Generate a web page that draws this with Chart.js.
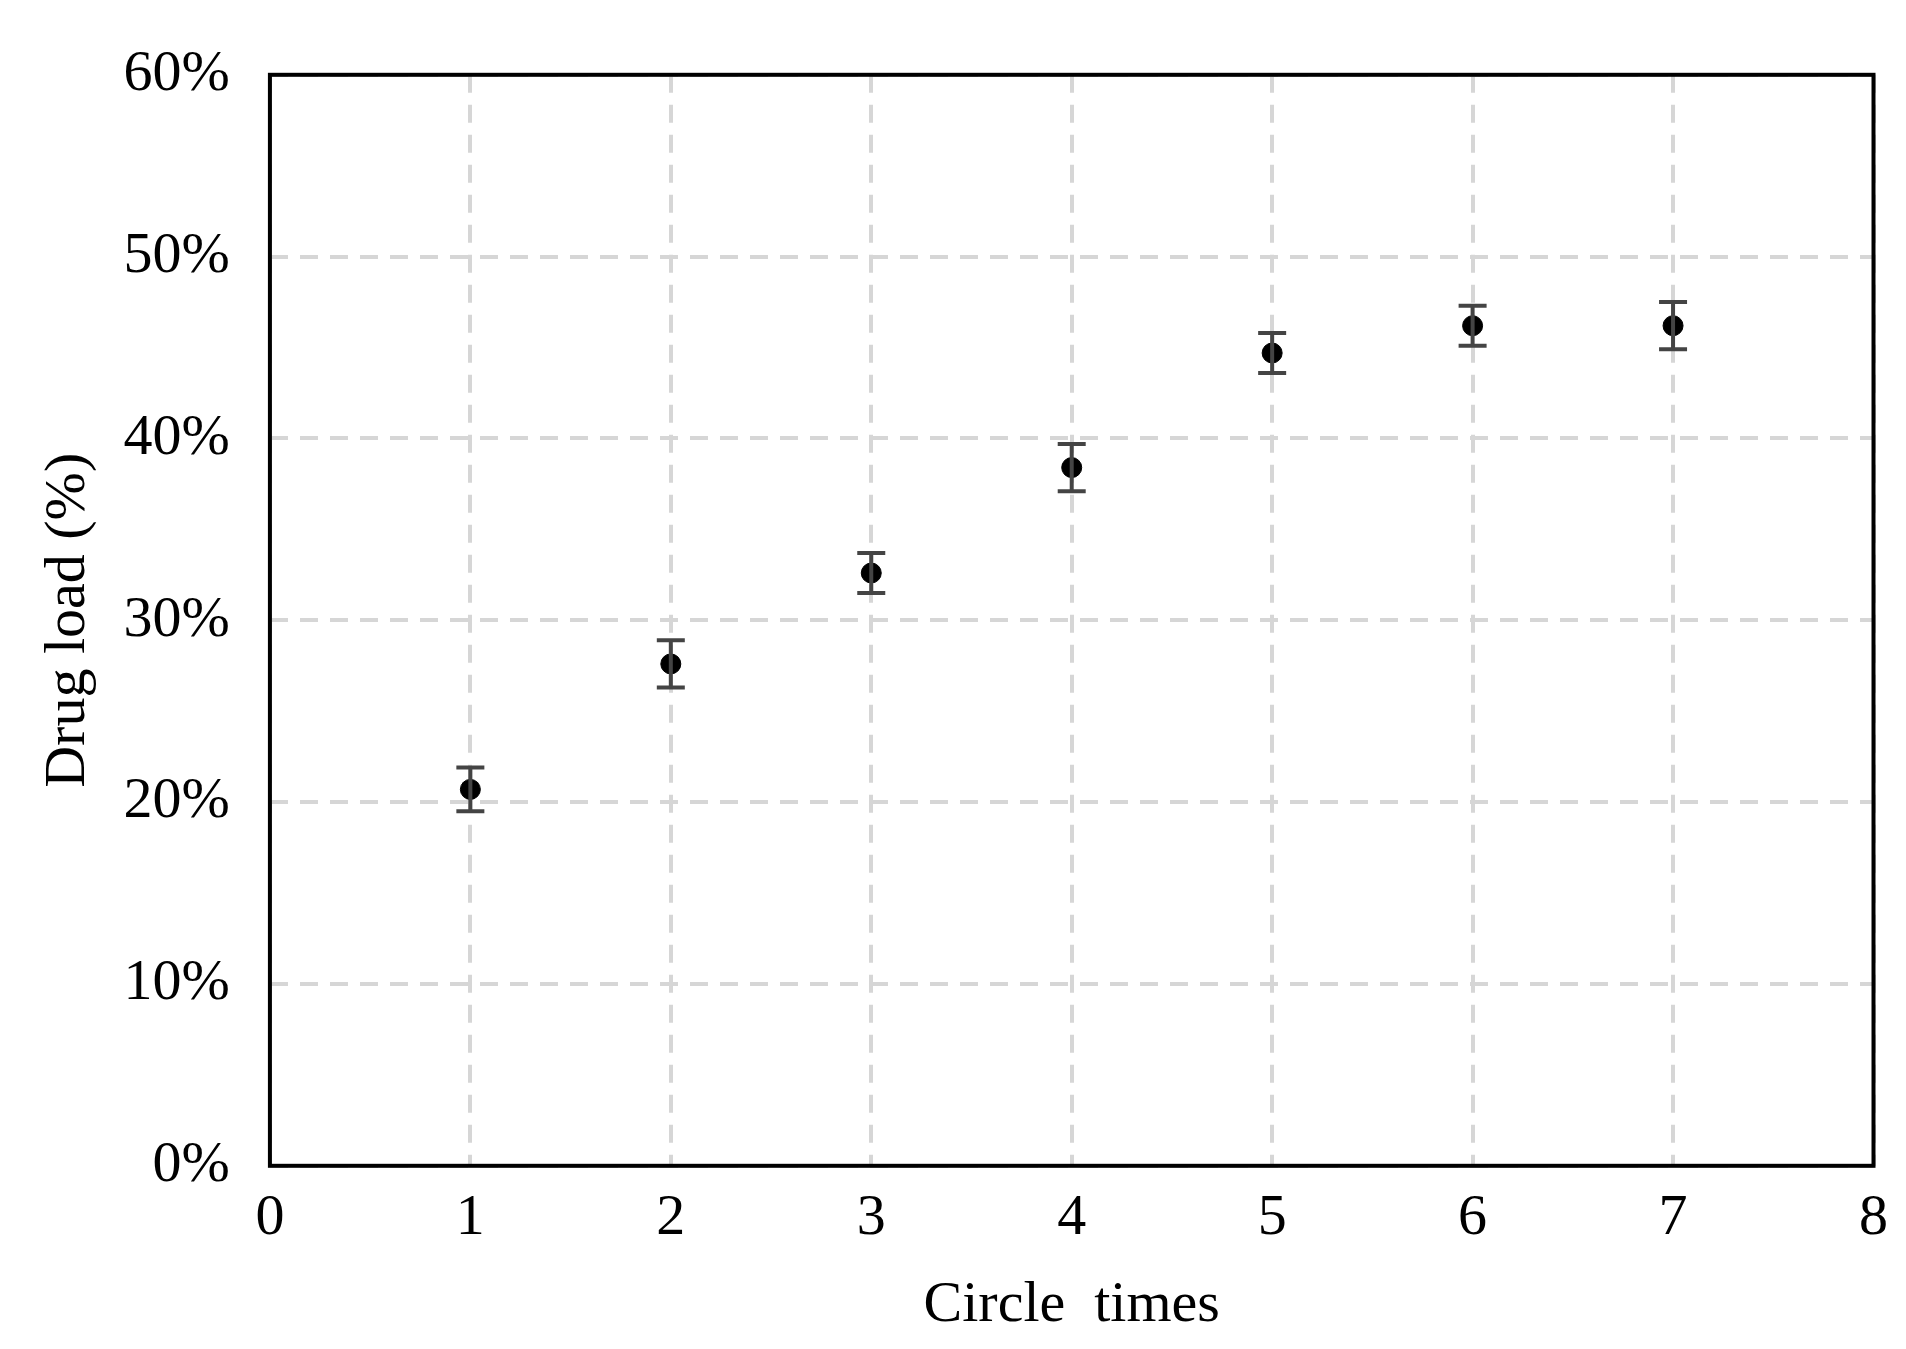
<!DOCTYPE html>
<html><head><meta charset="utf-8">
<script src="https://cdn.jsdelivr.net/npm/chart.js@4/dist/chart.umd.min.js"></script>
<style>html,body{margin:0;padding:0;background:#fff}#w{width:1906px;height:1349px}</style>
</head><body><div id="w"><canvas id="c"></canvas></div>
<script>
const cycles = [1,2,3,4,5,6,7];
const drugLoad = [20.7,27.6,32.6,38.4,44.7,46.2,46.2];
const errors = [1.2,1.3,1.1,1.3,1.1,1.1,1.3];
const errPlugin = {id:'err', afterDatasetsDraw(ch){
  const ctx=ch.ctx, xs=ch.scales.x, ys=ch.scales.y;
  ctx.save(); ctx.strokeStyle='#444'; ctx.lineWidth=4;
  cycles.forEach((c,i)=>{
    const x=xs.getPixelForValue(c), t=ys.getPixelForValue(drugLoad[i]+errors[i]), b=ys.getPixelForValue(drugLoad[i]-errors[i]);
    ctx.beginPath(); ctx.moveTo(x,t); ctx.lineTo(x,b);
    ctx.moveTo(x-14,t); ctx.lineTo(x+14,t); ctx.moveTo(x-14,b); ctx.lineTo(x+14,b); ctx.stroke();
  });
  ctx.restore();
}};
const frame = {id:'frame', afterDraw(ch){const a=ch.chartArea,ctx=ch.ctx;ctx.save();ctx.strokeStyle='#000';ctx.lineWidth=4;ctx.strokeRect(a.left,a.top,a.right-a.left,a.bottom-a.top);ctx.restore();}};
const font={family:'"Liberation Serif", serif', size:58};
new Chart(document.getElementById('c'),{
  type:'scatter',
  data:{datasets:[{data:cycles.map((c,i)=>({x:c,y:drugLoad[i]})),backgroundColor:'#000',borderColor:'#000',pointRadius:10}]},
  options:{responsive:true,maintainAspectRatio:false,animation:false,
    layout:{padding:{top:10,right:32,left:30,bottom:4}},
    plugins:{legend:{display:false},tooltip:{enabled:false}},
    scales:{
      x:{min:0,max:8,ticks:{stepSize:1,color:'#000',font,padding:18},
        grid:{color:'#d6d6d6',lineWidth:4,drawTicks:false},border:{dash:[18,12],display:false},
        title:{display:true,text:'Circle  times',color:'#000',font,padding:{top:0}}},
      y:{min:0,max:60,ticks:{stepSize:10,color:'#000',font,padding:40,callback:v=>v+'%'},
        grid:{color:'#d6d6d6',lineWidth:4,drawTicks:false},border:{dash:[18,12],display:false},
        title:{display:true,text:'Drug load (%)',color:'#000',font,padding:{bottom:-20}}}
    }},
  plugins:[errPlugin,frame]
});
</script></body></html>
